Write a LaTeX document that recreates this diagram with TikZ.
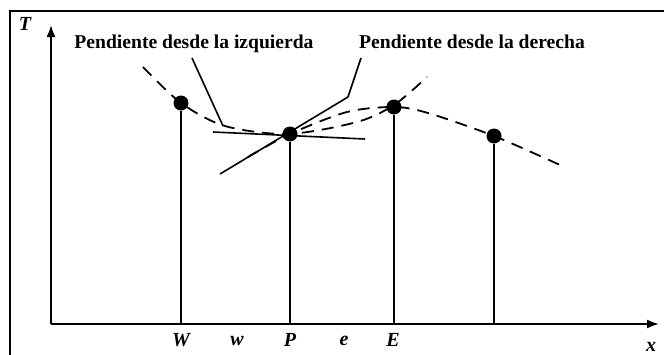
\documentclass[tikz,border=0pt]{standalone}
\usepackage{fontspec}
\setmainfont{Liberation Serif}
\usetikzlibrary{arrows.meta}
\begin{document}
\begin{tikzpicture}[x=0.5pt, y=-0.5pt, >={Latex[length=6pt,width=4.5pt]},
    punto/.style={circle, fill=black, inner sep=0pt, minimum size=7.5pt},
    rotulo/.style={font=\fontsize{10}{11}\selectfont\bfseries\itshape},
    titulo/.style={font=\fontsize{9.8}{11}\selectfont\bfseries},
    curva/.style={dash pattern=on 6pt off 4pt, line width=0.9pt}]
    \useasboundingbox (0,0) rectangle (664,354);
    % Marco
    \draw[line width=1pt] (10,360) -- (10,11) -- (670,11);

    % Ejes
    \coordinate (O) at (51,324);
    \coordinate (Xfin) at (659,324);
    \coordinate (Yfin) at (51,25);
    \draw[->, line width=0.9pt] (O) -- (Xfin);
    \draw[->, line width=0.9pt] (O) -- (Yfin);
    \node[rotulo] (T) at (25,24) {T};
    \node[rotulo] (xlab) at (651,347) {x};

    % Puntos
    \node[punto] (W) at (181,103) {};
    \node[punto] (P) at (290,134) {};
    \node[punto] (E) at (394,107) {};
    \node[punto] (EE) at (494,136) {};
    \foreach \n in {W,P,E,EE} \draw[line width=0.8pt] (\n) -- (\n |- O);

    \node[rotulo] (lW) at (181,340) {W};
    \node[rotulo] (lw) at (237,341) {w};
    \node[rotulo] (lP) at (290,340) {P};
    \node[rotulo] (le) at (344,341) {e};
    \node[rotulo] (lE) at (393,340) {E};

    % Curvas
    \draw[curva] plot[smooth] coordinates {(143,67) (181,103) (225,126) (288,134) (357,122) (394,105) (427,77)};
    \draw[curva] plot[smooth] coordinates {(248,157) (290,134) (347,112) (394,107) (428,113) (494,136) (560,165)};

    % Pendientes
    \coordinate (izqA) at (213,132);
    \coordinate (izqB) at (365,139);
    \coordinate (derA) at (220,174);
    \coordinate (derB) at (348,97);
    \draw[line width=0.8pt] (izqA) -- (izqB);
    \draw[line width=0.8pt] (derA) -- (derB);

    \node[titulo] (tizq) at (194,44) {Pendiente desde la izquierda};
    \node[titulo] (tder) at (472,42) {Pendiente desde la derecha};
    \coordinate (fizq) at (192,58);
    \coordinate (pizq) at (223,126);
    \coordinate (fder) at (361,58);
    \draw[line width=0.8pt] (fizq) -- (pizq);
    \draw[line width=0.8pt] (fder) -- (derB);
\end{tikzpicture}
\end{document}
